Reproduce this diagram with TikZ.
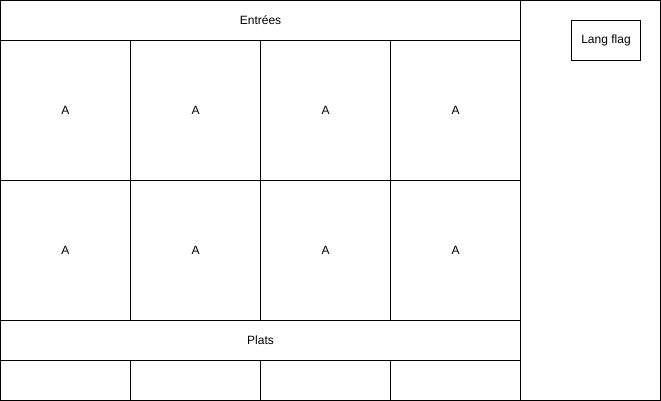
\documentclass[tikz,border=0pt]{standalone}
\usepackage{fontspec}
\setmainfont{Liberation Sans}
\usetikzlibrary{positioning}

\begin{document}
\begin{tikzpicture}[x=1pt,y=-1pt,node distance=0pt,
 every node/.style={font=\fontsize{12}{14}\selectfont},
 box/.style={draw,line width=1pt,inner sep=0pt,outer sep=0pt},
 bar/.style={box,minimum width=520pt,minimum height=40pt},
 cell/.style={box,minimum width=130pt,minimum height=140pt},
 foot/.style={box,minimum width=130pt,minimum height=40pt}]
\useasboundingbox (-0.5,-0.5) rectangle (660.5,400.5);
\node[box,minimum width=140pt,minimum height=400pt] (side) at (590,200) {};
\node[box,minimum width=69pt,minimum height=40pt] (flag) at (605.5,40) {Lang flag};
\node[bar] (entrees) at (260,20) {Entrées};
% first row of dishes
\node[cell,below=of entrees.south west,anchor=north west] (a1) {A};
\node[cell,right=of a1] (a2) {A};
\node[cell,right=of a2] (a3) {A};
\node[cell,right=of a3] (a4) {A};
% second row
\node[cell,below=of a1] (b1) {A};
\node[cell,right=of b1] (b2) {A};
\node[cell,right=of b2] (b3) {A};
\node[cell,right=of b3] (b4) {A};
\node[bar,below=of b1.south west,anchor=north west] (plats) {Plats};
\node[foot,below=of plats.south west,anchor=north west] (c1) {};
\node[foot,right=of c1] (c2) {};
\node[foot,right=of c2] (c3) {};
\node[foot,right=of c3] (c4) {};
\end{tikzpicture}
\end{document}
